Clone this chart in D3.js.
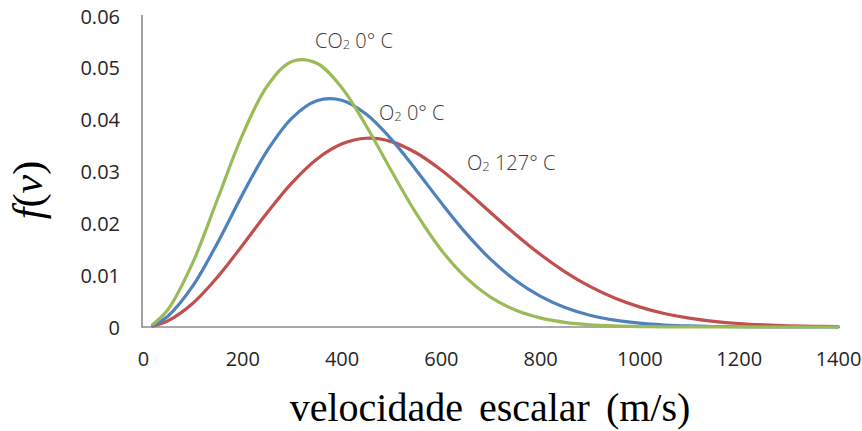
<!DOCTYPE html>
<html>
<head>
<meta charset="utf-8">
<script src="https://cdn.jsdelivr.net/npm/d3@7"></script>
<style>
  html, body { margin: 0; padding: 0; background: #fff; }
  svg { display: block; }
</style>
</head>
<body>
<svg id="chart" width="862" height="431"></svg>
<script>
// Speeds (m/s)
const speeds = [20, 50, 100, 150, 200, 250, 300, 350, 400, 450, 500, 550, 600, 650, 700,
  750, 800, 850, 900, 950, 1000, 1050, 1100, 1150, 1200, 1250, 1300, 1350, 1400];

// f(v) values
const co2_0C = [0.00054, 0.00332, 0.01236, 0.02464, 0.03697, 0.04645, 0.05124, 0.05089, 0.04622,
  0.03874, 0.03018, 0.02195, 0.01496, 0.00958, 0.00578, 0.00328, 0.00176, 0.0009, 0.00043,
  0.0002, 0.00008, 0.00003, 0.00001, 0.000005, 0.000002, 0.000001, 0, 0, 0];
const o2_0C = [0.00034, 0.00208, 0.00787, 0.01622, 0.02549, 0.03399, 0.04031, 0.04364, 0.04376,
  0.04104, 0.03625, 0.0303, 0.02405, 0.01816, 0.01308, 0.00901, 0.00594, 0.00375, 0.00227,
  0.00132, 0.00073, 0.00039, 0.0002, 0.0001, 0.00005, 0.00002, 0.00001, 0.000004, 0.000002];
const o2_127C = [0.00019, 0.00118, 0.00454, 0.00962, 0.01572, 0.02204, 0.0278, 0.03237, 0.03529,
  0.03641, 0.03577, 0.03362, 0.03034, 0.02636, 0.0221, 0.0179, 0.01403, 0.01065, 0.00783,
  0.00559, 0.00388, 0.00261, 0.00171, 0.00109, 0.00067, 0.00041, 0.00024, 0.00014, 0.00008];

const seriesNames = ["CO₂ 0° C", "O₂ 0° C", "O₂ 127° C"];
const seriesColors = ["#9BBB59", "#4F81BD", "#C0504D"];

const xTicks = [0, 200, 400, 600, 800, 1000, 1200, 1400];
const yTicks = [0, 0.01, 0.02, 0.03, 0.04, 0.05, 0.06];
const yTickLabels = ["0", "0.01", "0.02", "0.03", "0.04", "0.05", "0.06"];

const svg = d3.select("#chart");
const x = d3.scaleLinear().domain([0, 1400]).range([143, 838]);
const y = d3.scaleLinear().domain([0, 0.06]).range([327, 16]);

const labelFont = "'Open Sans', 'Noto Sans', sans-serif";

// Axes lines
const xAxis = svg.append("g").attr("transform", "translate(0,327)")
  .call(d3.axisBottom(x).tickValues(xTicks).tickSize(0).tickPadding(30).tickFormat(d3.format("d")));
xAxis.select(".domain").attr("d", "M141.5,0H840").attr("stroke", "#8c8c8c").attr("stroke-width", 1.6);
xAxis.selectAll("text").attr("font-family", labelFont).attr("font-size", 20).attr("fill", "#262626")
  .attr("dy", null).attr("y", 39);

const yAxis = svg.append("g").attr("transform", "translate(142,0)")
  .call(d3.axisLeft(y).tickValues(yTicks).tickSize(0).tickPadding(22)
    .tickFormat((d, i) => yTickLabels[i]));
yAxis.select(".domain").attr("d", "M0,15V327.5").attr("stroke", "#8c8c8c").attr("stroke-width", 1.6);
yAxis.selectAll("text").attr("font-family", labelFont).attr("font-size", 20).attr("fill", "#262626")
  .attr("dy", "0.35em");

// Lines
const line = d3.line()
  .x((d, i) => x(speeds[i]))
  .y(d => y(d))
  .curve(d3.curveCatmullRom.alpha(0.5));

const allSeries = [o2_127C, o2_0C, co2_0C];
const allColors = [seriesColors[2], seriesColors[1], seriesColors[0]];
allSeries.forEach((s, k) => {
  svg.append("path")
    .attr("d", line(s))
    .attr("fill", "none")
    .attr("stroke", allColors[k])
    .attr("stroke-width", 3.2)
    .attr("stroke-linejoin", "round")
    .attr("stroke-linecap", "round");
});

// Annotations
const annots = [
  { pre: "CO", sub: "2", post: " 0° C", x: 315, y: 48 },
  { pre: "O", sub: "2", post: " 0° C", x: 379, y: 120 },
  { pre: "O", sub: "2", post: " 127° C", x: 467, y: 170 }
];
annots.forEach(a => {
  const t = svg.append("text")
    .attr("x", a.x).attr("y", a.y)
    .attr("font-family", labelFont)
    .attr("font-weight", 300)
    .attr("font-size", 20)
    .attr("fill", "#3a3a3a");
  t.append("tspan").text(a.pre);
  t.append("tspan").attr("font-size", 13).attr("dy", 1).text(a.sub);
  t.append("tspan").attr("dy", -1).text(a.post);
});

// Axis titles
svg.append("text")
  .attr("x", 490).attr("y", 421)
  .attr("text-anchor", "middle")
  .attr("font-family", "'Liberation Serif', 'Times New Roman', serif")
  .attr("font-size", 40)
  .attr("word-spacing", 6)
  .attr("fill", "#000")
  .text("velocidade escalar (m/s)");

const yt = svg.append("text")
  .attr("transform", "translate(42,190) rotate(-90)")
  .attr("text-anchor", "middle")
  .attr("font-family", "'Liberation Serif', 'Times New Roman', serif")
  .attr("font-size", 42)
  .attr("fill", "#000");
yt.append("tspan").attr("font-style", "italic").text("f");
yt.append("tspan").text("(");
yt.append("tspan").attr("font-style", "italic").text("v");
yt.append("tspan").text(")");
</script>
</body>
</html>
